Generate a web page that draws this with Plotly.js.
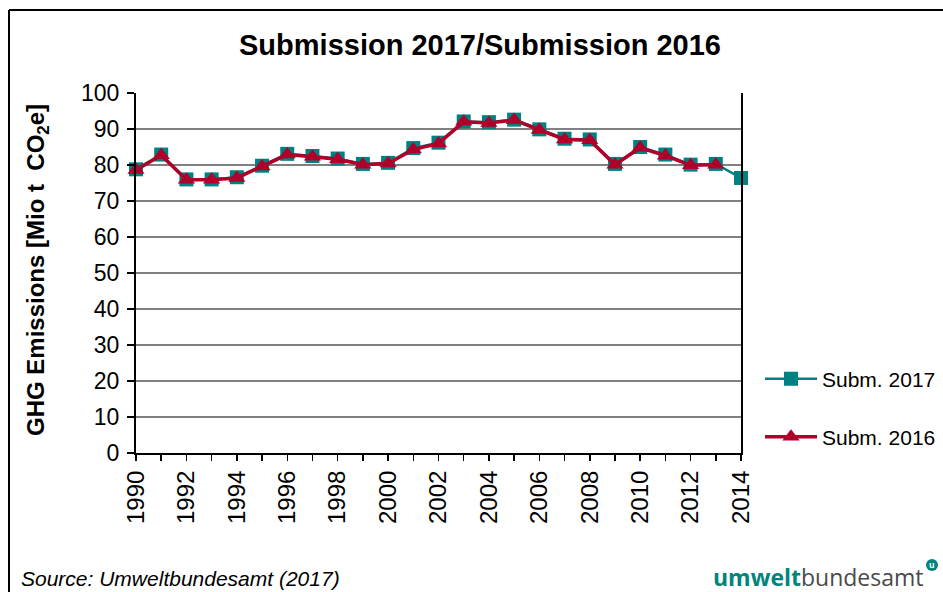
<!DOCTYPE html>
<html>
<head>
<meta charset="utf-8">
<script src="https://cdn.plot.ly/plotly-3.0.1.min.js"></script>
<style>html,body{margin:0;padding:0;background:#fff;}#chart{width:943px;height:592px;}</style>
</head>
<body>
<div id="chart"></div>
<script>
var years2017 = [1990,1991,1992,1993,1994,1995,1996,1997,1998,1999,2000,2001,2002,2003,2004,2005,2006,2007,2008,2009,2010,2011,2012,2013,2014];
var subm2017 = [78.8,82.9,76.0,76.0,76.6,79.8,83.1,82.5,81.8,80.3,80.6,84.7,86.2,92.1,91.9,92.6,89.9,87.3,87.1,80.3,85.0,82.9,80.1,80.3,76.4];
var years2016 = [1990,1991,1992,1993,1994,1995,1996,1997,1998,1999,2000,2001,2002,2003,2004,2005,2006,2007,2008,2009,2010,2011,2012,2013];
var subm2016 = [78.6,82.7,75.9,75.9,76.4,79.6,82.9,82.3,81.6,80.1,80.4,84.3,86.0,92.0,91.7,92.5,89.7,87.1,86.9,80.1,84.8,82.6,79.9,80.1];
var xTickVals = [1990,1991,1992,1993,1994,1995,1996,1997,1998,1999,2000,2001,2002,2003,2004,2005,2006,2007,2008,2009,2010,2011,2012,2013,2014];
var xTickText = ["1990","","1992","","1994","","1996","","1998","","2000","","2002","","2004","","2006","","2008","","2010","","2012","","2014"];
var yTickVals = [0,10,20,30,40,50,60,70,80,90,100];

var FONT = "Liberation Sans, Arial, sans-serif";
var TEAL = "#008080";
var RED = "#B0002A";
var PH = 360, PW = 605, L = 136, T = 93;
function px(x){ return (x - L) / PW; }
function py(y){ return (T + PH - y) / PH; }

var traces = [
  {x: years2017, y: subm2017, name: "Subm. 2017", type: "scatter", mode: "lines+markers",
   line: {color: TEAL, width: 2.5}, marker: {symbol: "square", size: 14, color: TEAL},
   cliponaxis: false, legend: "legend"},
  {x: years2016, y: subm2016, name: "Subm. 2016", type: "scatter", mode: "lines+markers",
   line: {color: RED, width: 3.5}, marker: {symbol: "triangle-up", size: 15, color: RED},
   cliponaxis: false, legend: "legend2"}
];

var layout = {
  width: 943, height: 592, autosize: false,
  paper_bgcolor: "#fff", plot_bgcolor: "#fff",
  margin: {l: 136, r: 202, t: 93, b: 139, autoexpand: false},
  font: {family: FONT, color: "#000", size: 21},
  title: {text: "<b>Submission 2017/Submission 2016</b>", x: px(480), xref: "paper", xanchor: "center",
          y: 1 - 45/592, yref: "container", yanchor: "middle", font: {family: FONT, size: 29, color: "#000"}},
  xaxis: {range: [1990, 2014], tickmode: "array", tickvals: xTickVals, ticktext: xTickText,
          tickangle: -90, ticks: "outside", ticklen: 6, tickwidth: 1.5, tickcolor: "#000",
          showline: true, linecolor: "#000", linewidth: 2, showgrid: false, zeroline: false, automargin: false,
          tickfont: {family: FONT, size: 24, color: "#000"}},
  yaxis: {range: [0, 100], tickmode: "array", tickvals: yTickVals, ticks: "outside", ticklen: 7,
          tickwidth: 1.5, tickcolor: "#000", showline: true, mirror: true, linecolor: "#000", linewidth: 2,
          showgrid: true, gridcolor: "#808080", gridwidth: 2, zeroline: false, automargin: false,
          ticklabelstandoff: 3,
          tickfont: {family: FONT, size: 23, color: "#000"}},
  showlegend: true,
  legend: {x: px(760), xanchor: "left", y: py(379), yanchor: "middle", itemwidth: 52,
           bgcolor: "rgba(0,0,0,0)", font: {family: FONT, size: 21, color: "#000"}},
  legend2: {x: px(760), xanchor: "left", y: py(437), yanchor: "middle", itemwidth: 52,
           bgcolor: "rgba(0,0,0,0)", font: {family: FONT, size: 21, color: "#000"}},
  shapes: [
    {type: "line", xref: "paper", yref: "paper", x0: px(9), x1: px(943),
     y0: py(10), y1: py(10), line: {color: "#000", width: 2}},
    {type: "line", xref: "paper", yref: "paper", x0: px(9), x1: px(9),
     y0: py(10), y1: py(595), line: {color: "#000", width: 2}},
    {type: "circle", xref: "paper", yref: "paper",
     x0: px(926), x1: px(938), y0: py(571), y1: py(559),
     fillcolor: "#00857C", line: {width: 0}}
  ],
  annotations: [
    {text: "<b>GHG Emissions [Mio t  CO<sub>2</sub>e]</b>", xref: "paper", yref: "paper",
     x: px(37), y: py(270), textangle: -90, showarrow: false,
     xanchor: "center", yanchor: "middle", font: {family: FONT, size: 24, color: "#000"}},
    {text: "<i>Source: Umweltbundesamt (2017)</i>", xref: "paper", yref: "paper",
     x: px(19), y: py(578), showarrow: false, xanchor: "left", yanchor: "middle",
     font: {family: FONT, size: 21, color: "#000"}},
    {text: "<b><span style='color:#00857C'>umwelt</span></b><span style='color:#4A4A4A'>bundesamt</span>",
     xref: "paper", yref: "paper", x: px(926), y: py(577), showarrow: false,
     xanchor: "right", yanchor: "middle", font: {family: "Open Sans, Noto Sans, sans-serif", size: 23, color: "#4A4A4A"}},
    {text: "<b>u</b>", xref: "paper", yref: "paper", x: px(932), y: py(565), showarrow: false,
     xanchor: "center", yanchor: "middle", font: {family: FONT, size: 9, color: "#fff"}}
  ]
};

Plotly.newPlot("chart", traces, layout, {displayModeBar: false, staticPlot: true});
</script>
</body>
</html>
